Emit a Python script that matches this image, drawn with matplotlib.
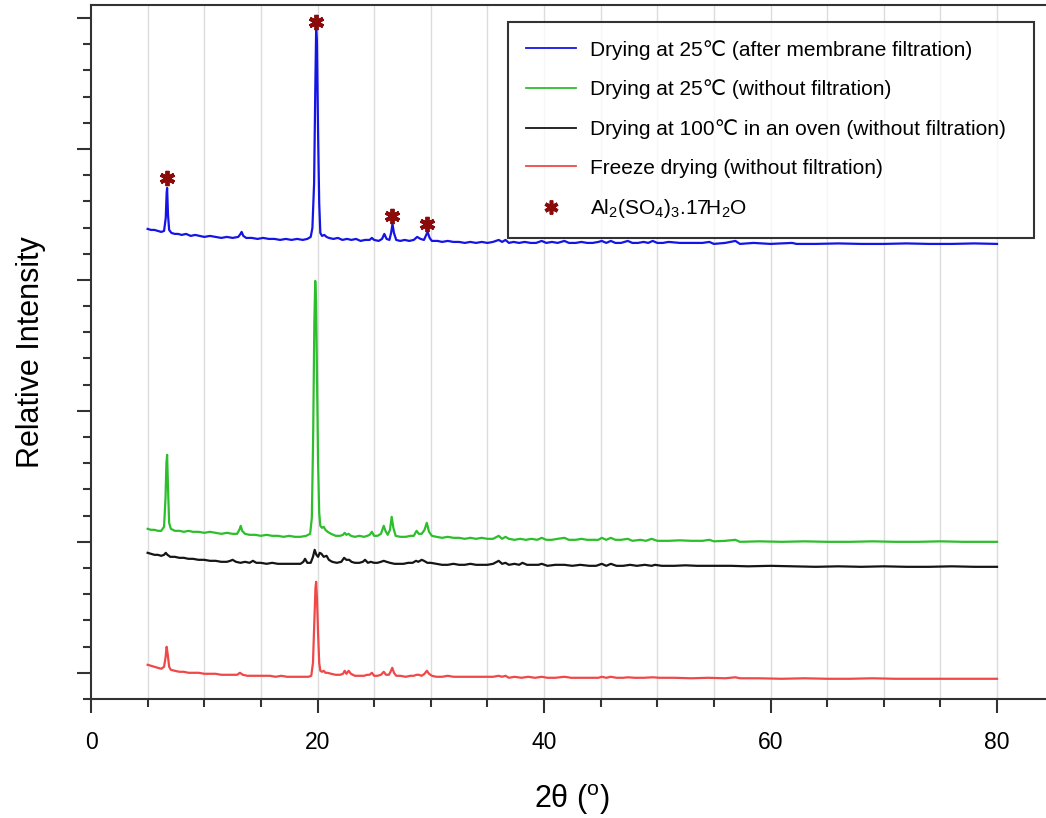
import matplotlib
matplotlib.use('Agg')
import matplotlib.pyplot as plt
from matplotlib.lines import Line2D
import numpy as np

plt.rcParams['font.family'] = ['Liberation Sans', 'DejaVu Sans']
plt.rcParams['mathtext.fontset'] = 'custom'
plt.rcParams['mathtext.rm'] = 'Liberation Sans'
plt.rcParams['mathtext.it'] = 'Liberation Sans:italic'

# XRD patterns: (2theta [deg], relative intensity [a.u., curves stacked])
blue = [(5.0, 444), (5.3, 443), (5.6, 443), (5.9, 442), (6.2, 441), (6.45, 442), (6.6, 455),
        (6.68, 480), (6.72, 485), (6.8, 458), (6.9, 443), (7.1, 440), (7.4, 439), (7.7, 439),
        (8.0, 438), (8.4, 439), (8.8, 437), (9.2, 438), (9.6, 437), (10.0, 436), (10.5, 437),
        (11.0, 436), (11.5, 435), (12.0, 436), (12.5, 435), (13.0, 436), (13.2, 439), (13.3, 441),
        (13.45, 437), (13.7, 435), (14.2, 435), (14.7, 434), (15.2, 435), (15.7, 434), (16.2, 434),
        (16.7, 433), (17.2, 434), (17.7, 433), (18.2, 434), (18.7, 433), (19.1, 434), (19.4, 436),
        (19.55, 445), (19.7, 490), (19.8, 580), (19.88, 643), (19.95, 630), (20.05, 540),
        (20.15, 470), (20.25, 440), (20.4, 437), (20.6, 438), (20.8, 436), (21.0, 435),
        (21.4, 434), (21.8, 435), (22.2, 433), (22.6, 434), (23.0, 433), (23.4, 434), (23.8, 432),
        (24.2, 433), (24.6, 433), (24.8, 435), (25.0, 433), (25.4, 432), (25.7, 434), (25.9, 439),
        (26.1, 434), (26.35, 433), (26.5, 440), (26.62, 449), (26.75, 440), (26.95, 433),
        (27.3, 432), (27.7, 433), (28.1, 432), (28.5, 433), (28.8, 436), (29.1, 434), (29.4, 433),
        (29.6, 438), (29.72, 441), (29.9, 435), (30.1, 432), (30.6, 432), (31.0, 431), (31.5, 432),
        (32.0, 431), (32.5, 431), (33.0, 430), (33.5, 431), (34.0, 430), (34.5, 431), (35.0, 430),
        (35.5, 431), (36.0, 433), (36.3, 431), (36.6, 433), (36.9, 430), (37.3, 431), (37.8, 430),
        (38.3, 431), (38.8, 430), (39.3, 430), (39.8, 432), (40.2, 430), (40.7, 431), (41.2, 430),
        (41.8, 432), (42.2, 430), (42.8, 430), (43.3, 431), (43.8, 430), (44.3, 430), (44.8, 431),
        (45.1, 432), (45.5, 430), (45.9, 432), (46.3, 430), (46.8, 430), (47.4, 432), (47.8, 430),
        (48.3, 430), (48.8, 431), (49.2, 430), (49.6, 432), (50.0, 430), (50.5, 430), (51.0, 431),
        (52.0, 430), (53.0, 430), (54.0, 430), (54.6, 431), (55.0, 429), (56.0, 430), (56.9, 432),
        (57.3, 429), (58.5, 430), (60.0, 429), (61.9, 430), (62.3, 429), (64.0, 429), (66.0, 429.5),
        (68.0, 429), (70.0, 429), (72.0, 429.5), (74.0, 429), (76.0, 429), (78.0, 429.5), (80.0, 429)]

green = [(5.0, 144), (5.3, 143), (5.6, 143), (5.9, 142), (6.2, 142), (6.45, 146), (6.58, 175),
         (6.66, 210), (6.72, 218), (6.8, 185), (6.9, 150), (7.05, 144), (7.4, 142), (7.8, 142),
         (8.2, 141), (8.6, 142), (9.0, 141), (9.5, 141), (10.0, 140), (10.5, 141), (11.0, 140),
         (11.5, 139), (12.0, 140), (12.5, 139), (12.9, 139), (13.1, 143), (13.22, 147), (13.35, 142),
         (13.6, 139), (14.0, 138), (14.5, 138), (15.0, 137), (15.5, 138), (16.0, 137), (16.5, 137),
         (17.0, 136), (17.5, 137), (18.0, 136), (18.5, 136), (19.0, 137), (19.35, 139), (19.5, 155),
         (19.62, 240), (19.72, 350), (19.8, 392), (19.88, 370), (19.95, 300), (20.05, 210),
         (20.15, 160), (20.25, 147), (20.4, 145), (20.55, 146), (20.7, 143), (20.9, 141),
         (21.2, 139), (21.6, 137), (22.0, 137), (22.25, 138), (22.4, 140), (22.55, 138),
         (22.75, 139), (22.95, 137), (23.3, 136), (23.7, 137), (24.1, 136), (24.4, 137), (24.6, 138),
         (24.8, 141), (25.0, 137), (25.3, 137), (25.6, 139), (25.85, 147), (26.0, 142), (26.2, 138),
         (26.4, 143), (26.55, 156), (26.7, 145), (26.9, 137), (27.3, 136), (27.8, 136), (28.2, 137),
         (28.5, 137), (28.75, 142), (28.95, 139), (29.2, 139), (29.45, 143), (29.65, 150),
         (29.85, 141), (30.1, 137), (30.5, 136), (31.0, 135), (31.5, 136), (32.0, 135), (32.5, 135),
         (33.0, 134), (33.5, 135), (34.0, 134), (34.5, 135), (35.0, 134), (35.5, 134), (36.0, 137),
         (36.3, 134), (36.6, 136), (36.9, 134), (37.4, 133), (37.9, 134), (38.4, 133), (38.9, 134),
         (39.4, 133), (39.8, 135), (40.2, 133), (40.7, 133), (41.2, 134), (41.8, 135), (42.2, 133),
         (42.8, 133), (43.3, 134), (43.8, 133), (44.3, 133), (44.8, 133), (45.1, 135), (45.5, 133),
         (45.9, 135), (46.3, 133), (46.8, 133), (47.4, 134), (47.8, 132), (48.5, 133), (49.0, 132),
         (49.5, 134), (50.0, 132), (51.0, 132), (52.0, 132.5), (53.0, 132), (54.0, 132),
         (54.6, 133), (55.0, 131.5), (56.0, 132), (56.9, 133), (57.3, 131), (59.0, 131.5),
         (61.0, 131), (63.0, 131.5), (65.0, 131), (67.0, 131), (69.0, 131.5), (71.0, 131),
         (73.0, 131), (75.0, 131.5), (77.0, 131), (80.0, 131)]

black = [(5.0, 120), (5.3, 119), (5.6, 118), (5.9, 118), (6.2, 117), (6.45, 118), (6.6, 120),
         (6.75, 118), (7.0, 116), (7.4, 116), (7.8, 115), (8.2, 115), (8.6, 114), (9.0, 114),
         (9.5, 113), (10.0, 113), (10.5, 112), (11.0, 112), (11.5, 111), (12.0, 111), (12.3, 112),
         (12.5, 113), (12.8, 111), (13.2, 110), (13.6, 111), (14.0, 110), (14.3, 112), (14.6, 110),
         (15.0, 110), (15.5, 109), (16.0, 110), (16.5, 109), (17.0, 109), (17.5, 109), (18.0, 109),
         (18.5, 109), (18.75, 111), (18.9, 114), (19.1, 110), (19.4, 110), (19.6, 116),
         (19.75, 123), (19.9, 118), (20.05, 116), (20.2, 120), (20.35, 119), (20.55, 116),
         (20.8, 117), (21.0, 113), (21.3, 111), (21.7, 110), (22.1, 111), (22.35, 115), (22.55, 113),
         (22.8, 113), (23.0, 111), (23.3, 110), (23.7, 110), (24.0, 111), (24.2, 113), (24.45, 110),
         (24.7, 111), (25.0, 110), (25.3, 110), (25.6, 111), (25.85, 112), (26.1, 111), (26.4, 110),
         (26.8, 109), (27.2, 109), (27.6, 109), (28.0, 110), (28.4, 110), (28.7, 112), (28.9, 111),
         (29.2, 113), (29.4, 112), (29.7, 110), (30.0, 110), (30.5, 109), (31.0, 108), (31.5, 108),
         (32.0, 109), (32.5, 108), (33.0, 108), (33.5, 109), (34.0, 108), (34.5, 108), (35.0, 108),
         (35.5, 109), (36.0, 112), (36.3, 109), (36.6, 110), (36.9, 108), (37.4, 109), (37.8, 108),
         (38.1, 110), (38.5, 108), (39.0, 108), (39.5, 108), (39.8, 109), (40.3, 107), (41.0, 108),
         (41.8, 108), (42.5, 107), (43.2, 108), (44.0, 107), (44.6, 107), (45.1, 109), (45.5, 107),
         (45.9, 109), (46.4, 107), (47.0, 107), (47.6, 108), (48.2, 107), (48.9, 108), (49.5, 107),
         (49.8, 108), (50.4, 107), (51.5, 107), (52.5, 107.5), (53.5, 107), (55.0, 107),
         (56.5, 107), (58.0, 106.5), (60.0, 107), (62.0, 106.5), (64.0, 106), (66.0, 106.5),
         (68.0, 106), (70.0, 106.5), (72.0, 106), (74.0, 106), (76.0, 106.5), (78.0, 106), (80.0, 106)]

red = [(5.0, 8), (5.3, 7), (5.6, 6), (5.9, 5), (6.2, 4), (6.45, 6), (6.58, 15), (6.68, 26),
       (6.78, 18), (6.9, 6), (7.05, 3), (7.4, 2), (7.8, 1), (8.2, 1), (8.6, 0), (9.0, 0), (9.5, 0),
       (10.0, -1), (10.5, -1), (11.0, -1), (11.5, -2), (12.0, -2), (12.5, -2), (12.9, -2),
       (13.15, 0), (13.4, -2), (13.8, -3), (14.3, -3), (14.8, -3), (15.3, -3), (15.8, -3),
       (16.3, -4), (16.8, -3), (17.3, -4), (17.8, -4), (18.3, -4), (18.8, -4), (19.2, -4),
       (19.45, -3), (19.6, 10), (19.72, 50), (19.82, 85), (19.88, 91), (19.95, 75), (20.05, 40),
       (20.15, 10), (20.25, 2), (20.4, 1), (20.55, 2), (20.7, 0), (20.9, 0), (21.2, -1), (21.6, -2),
       (22.0, -2), (22.25, -1), (22.4, 2), (22.55, -1), (22.75, 2), (22.95, -1), (23.3, -3),
       (23.7, -3), (24.1, -3), (24.4, -2), (24.6, -2), (24.8, 0), (25.0, -3), (25.3, -3),
       (25.6, -2), (25.85, 1), (26.05, -2), (26.3, -2), (26.45, 1), (26.6, 5), (26.75, 0),
       (26.95, -3), (27.3, -3), (27.8, -4), (28.2, -3), (28.5, -3), (28.75, -2), (28.95, -2),
       (29.2, -3), (29.45, -1), (29.65, 2), (29.85, -1), (30.1, -3), (30.5, -4), (31.0, -4),
       (31.5, -3), (32.0, -4), (32.5, -4), (33.0, -4), (33.5, -4), (34.0, -4), (34.5, -4),
       (35.0, -4), (35.5, -4), (36.0, -3), (36.3, -4), (36.6, -3), (36.9, -5), (37.4, -4),
       (38.0, -5), (38.6, -4), (39.2, -5), (39.8, -4), (40.3, -5), (41.0, -5), (41.8, -4),
       (42.4, -5), (43.0, -5), (43.6, -5), (44.2, -5), (44.8, -5), (45.1, -4), (45.5, -5),
       (45.9, -4), (46.4, -5), (47.0, -5), (47.4, -4.5), (48.0, -5), (48.8, -5), (49.6, -4.5),
       (50.2, -5), (51.5, -5), (53.0, -5.5), (54.5, -5), (56.0, -5.5), (56.9, -4.5), (57.3, -5.5),
       (59.0, -5.5), (61.0, -6), (63.0, -5.5), (65.0, -6), (67.0, -6), (69.0, -5.5), (71.0, -6),
       (73.0, -6), (75.0, -6), (77.0, -6), (80.0, -6)]

# Al2(SO4)3.17H2O reflections marked on the blue pattern
star_x = [6.7, 19.9, 26.6, 29.7]
star_y = [495, 651, 457, 449]

labels = ['Drying at 25\u2103 (after membrane filtration)',
          'Drying at 25\u2103 (without filtration)',
          'Drying at 100\u2103 in an oven (without filtration)',
          'Freeze drying (without filtration)',
          r'Al$_2$(SO$_4$)$_3$.17H$_2$O']
colors = ['#1414e6', '#2cbf2c', '#151515', '#f04848']
star_color = '#8b0a0a'

fig = plt.figure(figsize=(10.46, 8.18), dpi=100)
ax = fig.add_axes([0.087, 0.1455, 0.9203, 0.8484])

for gx in np.arange(5, 85, 5):
    ax.axvline(gx, color='#dcdcdc', lw=1, zorder=0)

for data, c in zip([blue, green, black, red], colors):
    xs, ys = np.array(data).T
    ax.plot(xs, ys, color=c, lw=1.6)
ax.plot(star_x, star_y, ls='none', marker=(6, 2, 0), ms=11, mew=2.8,
        color=star_color)

ax.set_xlim(0, 85)
ax.set_ylim(-26, 668)
ax.set_xticks([0, 20, 40, 60, 80])
ax.set_xticks(np.arange(0, 85, 5), minor=True)
ax.set_yticks(np.arange(0, 668, 131))
ax.set_yticks(np.arange(-26.2, 668, 26.2), minor=True)
ax.set_yticklabels([])
ax.tick_params(which='major', direction='out', length=10, width=1.5, color='#333333',
               labelsize=16.5, pad=13)
ax.tick_params(which='minor', direction='out', length=6, width=1.5, color='#333333')
for s in ax.spines.values():
    s.set_linewidth(1.5)
    s.set_color('#333333')

ax.set_xlabel('2\u03b8 ($^{\\mathrm{o}}$)', fontsize=22, labelpad=20)
fig.text(31 / 1046, 0.5697, 'Relative Intensity', rotation=90, fontsize=22,
         ha='center', va='center')

handles = [Line2D([], [], color=c, lw=1.3) for c in colors]
handles.append(Line2D([], [], ls='none', marker=(6, 2, 0), ms=10, mew=2.6,
                      color=star_color))
leg = ax.legend(handles, labels, loc='upper left',
                bbox_to_anchor=(0.4332, 0.9755 - 0.4, 0.5464, 0.4), mode='expand',
                fontsize=15, frameon=True, fancybox=False, edgecolor='black',
                handlelength=2.4, handletextpad=0.7, labelspacing=0.95,
                borderpad=0.85, borderaxespad=0)
leg.get_frame().set_linewidth(1.5)

fig.savefig('out.png', dpi=100)
